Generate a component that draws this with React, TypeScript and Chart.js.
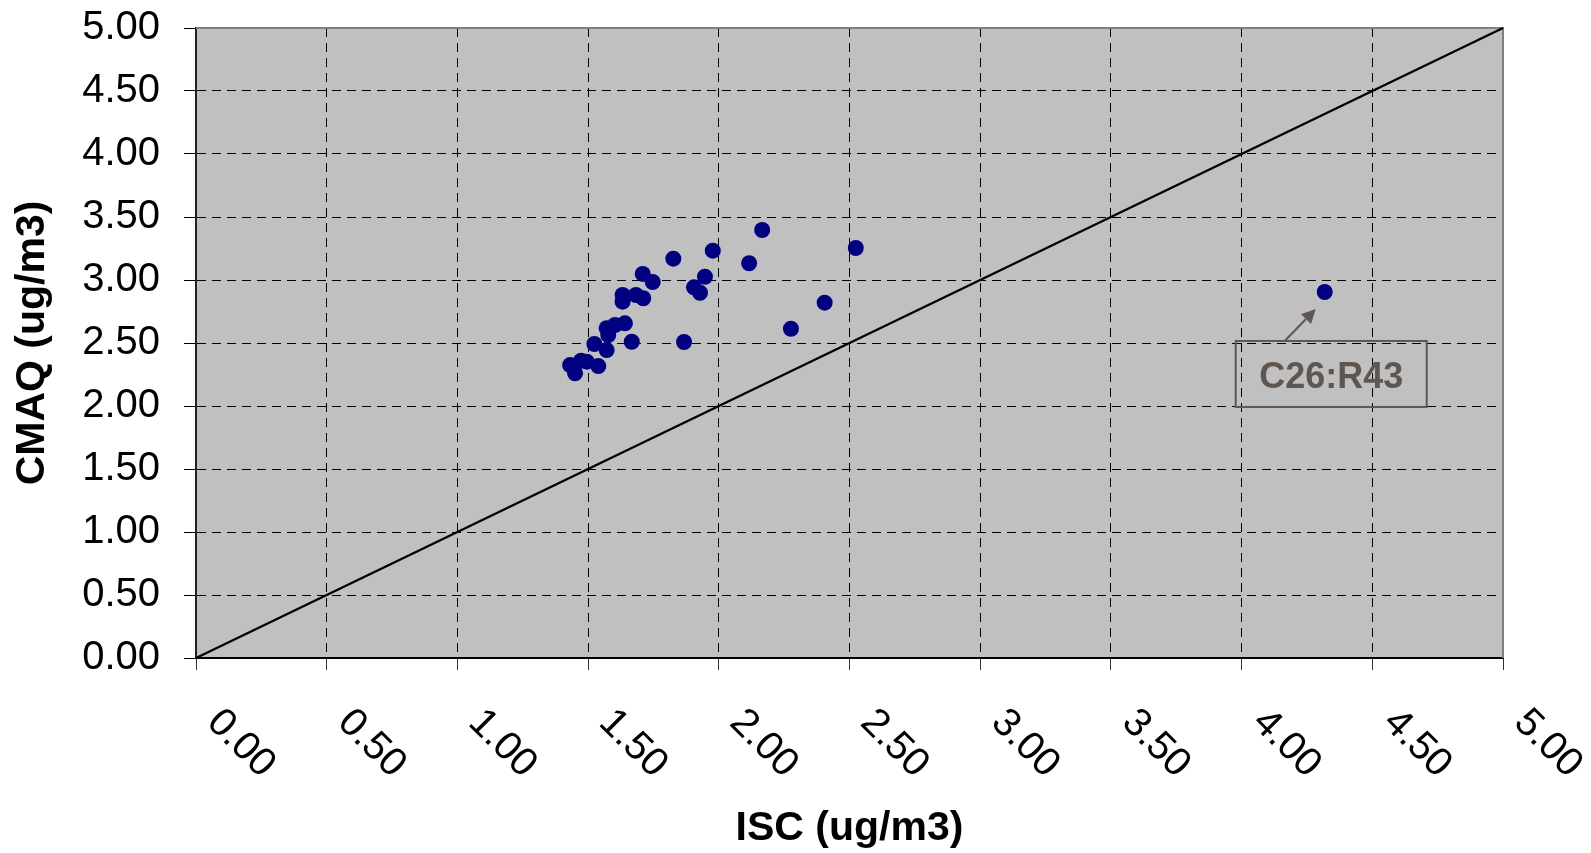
import React, { useEffect, useRef } from "react";
import { Chart, registerables } from "chart.js";

Chart.register(...registerables);

// ISC (x) vs CMAQ (y), ug/m3
const iscValues = [
  2.166, 1.977, 1.826, 2.116, 2.524, 1.709, 1.747, 1.947, 1.905, 1.928,
  1.632, 1.683, 1.711, 1.632, 2.405, 2.276, 1.867, 1.667, 1.641, 1.603,
  1.571, 1.577, 1.524, 1.571, 1.431, 1.450, 1.495, 1.539, 1.473, 4.318,
];
const cmaqValues = [
  3.397, 3.233, 3.169, 3.133, 3.254, 3.048, 2.984, 3.026, 2.942, 2.899,
  2.881, 2.881, 2.855, 2.828, 2.820, 2.613, 2.508, 2.510, 2.656, 2.643,
  2.617, 2.563, 2.492, 2.444, 2.325, 2.260, 2.352, 2.317, 2.360, 2.905,
];
const lineX = [0, 5];
const lineY = [0, 5];
const tickLabels = [
  "0.00", "0.50", "1.00", "1.50", "2.00", "2.50",
  "3.00", "3.50", "4.00", "4.50", "5.00",
];
const annotationText = "C26:R43";
const annotationIndex = 29;
const xTitle = "ISC (ug/m3)";
const yTitle = "CMAQ (ug/m3)";

const FONT = "'Liberation Sans', Arial, sans-serif";

export default function App() {
  const ref = useRef<HTMLCanvasElement | null>(null);

  useEffect(() => {
    if (!ref.current) return;

    const plotPlugin = {
      id: "plotDecor",
      beforeDraw(chart: any) {
        const { ctx, chartArea: a } = chart;
        ctx.save();
        ctx.fillStyle = "#c0c0c0";
        ctx.fillRect(a.left, a.top, a.right - a.left, a.bottom - a.top);
        ctx.restore();
      },
      beforeDatasetsDraw(chart: any) {
        const { ctx, chartArea: a } = chart;
        ctx.save();
        ctx.strokeStyle = "#808080";
        ctx.lineWidth = 2;
        ctx.beginPath();
        ctx.moveTo(a.left, a.top);
        ctx.lineTo(a.right, a.top);
        ctx.lineTo(a.right, a.bottom);
        ctx.stroke();
        ctx.restore();
      },
      afterDraw(chart: any) {
        const { ctx, chartArea: a } = chart;
        const xs = chart.scales.x;
        // rotated x tick labels
        ctx.save();
        ctx.fillStyle = "#000";
        ctx.font = `40px ${FONT}`;
        ctx.textAlign = "left";
        ctx.textBaseline = "alphabetic";
        tickLabels.forEach((lab) => {
          const px = xs.getPixelForValue(parseFloat(lab));
          ctx.save();
          ctx.translate(px + 9.5, a.bottom + 66);
          ctx.rotate(Math.PI / 4);
          ctx.fillText(lab, 0, 0);
          ctx.restore();
        });
        ctx.restore();

        // annotation callout
        const meta = chart.getDatasetMeta(0);
        const pt = meta.data[annotationIndex];
        if (!pt) return;
        const px = pt.x;
        const py = pt.y;
        const col = "#5f574f";
        ctx.save();
        ctx.strokeStyle = col;
        ctx.fillStyle = col;
        ctx.lineWidth = 2;
        const bx = px - 89;
        const by = py + 49;
        const bw = 191;
        const bh = 66;
        ctx.strokeRect(bx, by, bw, bh);
        // arrow
        const sx = px - 40;
        const sy = by;
        const tx = px - 9;
        const ty = py + 17;
        const ang = Math.atan2(ty - sy, tx - sx);
        const hl = 14;
        const hw = 7;
        const baseX = tx - hl * Math.cos(ang);
        const baseY = ty - hl * Math.sin(ang);
        ctx.beginPath();
        ctx.moveTo(sx, sy);
        ctx.lineTo(baseX, baseY);
        ctx.stroke();
        ctx.beginPath();
        ctx.moveTo(tx, ty);
        ctx.lineTo(baseX + hw * Math.sin(ang), baseY - hw * Math.cos(ang));
        ctx.lineTo(baseX - hw * Math.sin(ang), baseY + hw * Math.cos(ang));
        ctx.closePath();
        ctx.fill();
        ctx.font = `bold 36px ${FONT}`;
        ctx.textAlign = "center";
        ctx.textBaseline = "alphabetic";
        ctx.fillText(annotationText, bx + bw / 2, by + bh / 2 + 14);
        ctx.restore();
      },
    };

    const chart = new Chart(ref.current, {
      type: "scatter",
      data: {
        datasets: [
          {
            label: "CMAQ vs ISC",
            data: iscValues.map((x, i) => ({ x, y: cmaqValues[i] })),
            backgroundColor: "#000080",
            borderColor: "#000080",
            borderWidth: 0,
            pointRadius: 8,
            pointHoverRadius: 8,
            order: 1,
          },
          {
            type: "line",
            label: "1:1",
            data: lineX.map((x, i) => ({ x, y: lineY[i] })),
            borderColor: "#000",
            borderWidth: 2.4,
            pointRadius: 0,
            fill: false,
            clip: false,
            order: 2,
          } as any,
        ],
      },
      options: {
        animation: false,
        responsive: true,
        maintainAspectRatio: false,
        events: [],
        layout: { padding: { left: 0, top: 28, right: 88, bottom: 0 } },
        plugins: {
          legend: { display: false },
          tooltip: { enabled: false },
        },
        scales: {
          x: {
            type: "linear",
            min: 0,
            max: 5,
            afterFit(scale: any) {
              scale.height = 195;
              scale.paddingLeft = 0;
              scale.paddingRight = 0;
            },
            ticks: {
              display: false,
              stepSize: 0.5,
              callback: (_v: any, i: number) => tickLabels[i],
            },
            grid: {
              color: "#000",
              lineWidth: 1,
              tickLength: 12,
              tickColor: "#333",
              tickWidth: 1,
              tickBorderDash: [],
            },
            border: { display: true, color: "#000", width: 2, dash: [9, 6] },
            title: {
              display: true,
              text: xTitle,
              color: "#000",
              font: { family: FONT, size: 41, weight: "bold" },
              padding: { top: 0, bottom: 0 },
            },
          },
          y: {
            type: "linear",
            min: 0,
            max: 5,
            afterFit(scale: any) {
              scale.width = 196;
              scale.paddingTop = 20;
              scale.paddingBottom = 20;
            },
            ticks: {
              stepSize: 0.5,
              color: "#000",
              padding: 24,
              font: { family: FONT, size: 40 },
              callback: (_v: any, i: number) => tickLabels[i],
            },
            grid: {
              color: "#000",
              lineWidth: 1,
              tickLength: 12,
              tickColor: "#000",
              tickWidth: 1,
              tickBorderDash: [],
            },
            border: { display: true, color: "#222", width: 2, dash: [9, 6] },
            title: {
              display: true,
              text: yTitle,
              color: "#000",
              font: { family: FONT, size: 41, weight: "bold" },
              padding: { top: 8, bottom: 4 },
            },
          },
        },
      },
      plugins: [plotPlugin],
    });

    return () => chart.destroy();
  }, []);

  return (
    <div
      style={{
        position: "fixed",
        left: 0,
        top: 0,
        width: 1591,
        height: 853,
        background: "#fff",
      }}
    >
      <canvas ref={ref} />
    </div>
  );
}
